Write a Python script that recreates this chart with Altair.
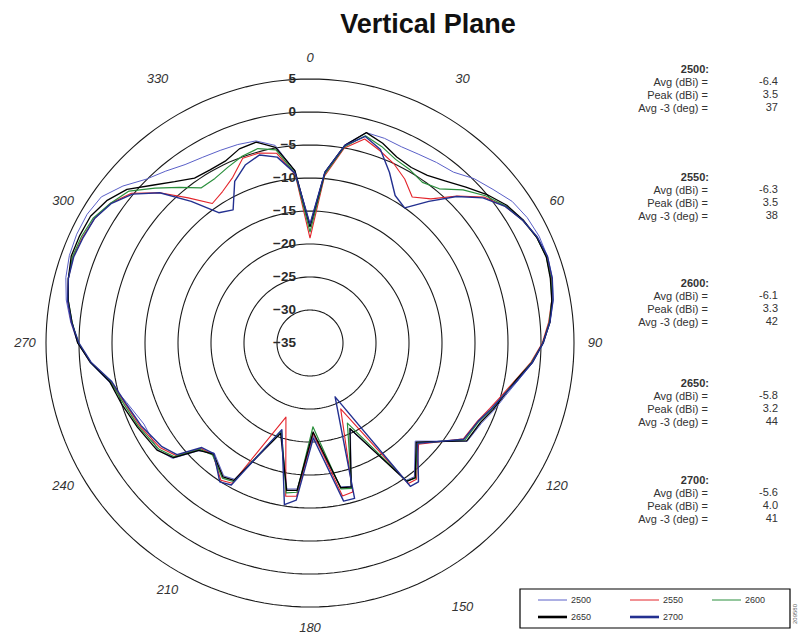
import altair as alt
import pandas as pd
import numpy as np

# ---------------- data ----------------
angles = [0, 5, 10, 15, 20, 25, 30, 35, 40, 45,
          50, 55, 60, 65, 70, 75, 80, 85, 90, 95,
          100, 105, 110, 115, 122, 133, 142, 145, 155, 164,
          168, 178, 185, 189, 198, 209, 213, 221, 226, 230,
          235, 244, 252, 259, 265, 270, 275, 280, 285, 290,
          295, 300, 305, 310, 315, 320, 325, 330, 335, 340,
          345, 350, 355, 360]

g2500 = [-17.0, -9.0, -4.5, -2.0, -2.0, -2.2, -2.0, -1.6, -1.2, 0.2,
         1.2, 2.4, 3.0, 3.3, 3.3, 3.0, 2.4, 1.5, 0.4, -1.1,
         -2.9, -4.3, -5.3, -6.3, -6.9, -13.2, -9.3, -9.6, -20.5, -12.4,
         -12.7, -21.0, -12.8, -12.6, -20.8, -11.4, -11.0, -12.9, -11.5, -7.8,
         -6.8, -7.0, -5.8, -4.0, -1.5, 0.2, 1.4, 2.5, 3.3, 3.8,
         4.0, 4.0, 3.6, 2.0, 0.1, -1.0, -2.0, -2.5, -2.8, -3.0,
         -3.3, -4.6, -8.8, -17.0]

g2550 = [-19.1, -9.6, -5.0, -3.0, -4.0, -5.0, -6.3, -8.0, -6.5, -3.5,
         -0.6, 1.1, 2.2, 2.9, 3.2, 2.9, 2.2, 1.3, 0.2, -1.4,
         -3.3, -4.8, -6.0, -7.0, -7.6, -12.5, -8.8, -9.0, -24.0, -11.5,
         -11.3, -21.3, -11.7, -11.5, -23.2, -10.7, -10.2, -12.6, -12.0, -8.5,
         -7.3, -6.3, -5.5, -4.3, -1.6, 0.1, 1.3, 2.3, 2.9, 3.2,
         3.0, 2.7, 1.9, 0.3, -2.8, -6.3, -9.2, -8.5, -7.3, -5.2,
         -5.2, -5.8, -9.4, -19.1]

g2600 = [-18.2, -9.3, -4.8, -2.5, -3.3, -4.3, -4.7, -5.3, -4.5, -2.2,
         -0.3, 1.2, 2.2, 2.9, 3.1, 2.8, 2.2, 1.4, 0.3, -1.3,
         -3.2, -4.6, -5.7, -6.8, -7.3, -12.8, -9.0, -9.5, -21.6, -12.1,
         -12.4, -22.3, -12.3, -12.0, -21.0, -11.0, -10.6, -12.5, -11.8, -8.2,
         -7.0, -6.1, -5.3, -4.2, -1.6, 0.1, 1.2, 2.2, 2.9, 3.3,
         3.2, 2.9, 1.9, 0.8, -1.8, -4.2, -6.3, -6.2, -5.6, -4.9,
         -4.5, -5.3, -9.2, -18.2]

g2650 = [-17.4, -9.0, -4.6, -2.0, -2.8, -3.9, -4.3, -4.0, -3.0, -1.6,
         0.0, 1.4, 2.3, 2.9, 3.1, 2.7, 2.2, 1.5, 0.3, -1.2,
         -3.2, -4.5, -5.5, -6.5, -7.0, -13.0, -9.1, -9.4, -20.7, -12.3,
         -12.6, -21.5, -12.6, -12.4, -20.6, -11.2, -10.8, -12.7, -11.6, -8.0,
         -6.7, -5.9, -5.0, -4.1, -1.6, 0.2, 1.2, 2.2, 2.9, 3.5,
         3.5, 3.4, 2.6, 1.2, -1.2, -3.1, -4.5, -4.7, -4.6, -3.7,
         -3.5, -4.9, -8.8, -17.4]

g2700 = [-17.0, -9.0, -4.6, -2.6, -3.8, -6.5, -9.2, -10.0, -7.0, -3.6,
         -0.8, 1.1, 2.2, 3.0, 3.3, 3.0, 2.4, 1.5, 0.3, -1.2,
         -3.0, -4.6, -5.8, -6.9, -7.5, -12.7, -8.3, -8.5, -26.0, -10.5,
         -10.5, -20.6, -11.1, -10.2, -21.2, -10.4, -9.9, -12.8, -12.2, -8.7,
         -7.6, -6.5, -5.6, -4.4, -1.7, 0.0, 1.3, 2.3, 2.9, 3.1,
         2.9, 2.7, 1.8, 0.1, -2.8, -7.0, -10.9, -11.7, -8.0, -6.3,
         -5.5, -6.4, -9.2, -17.0]

series = ["2500", "2550", "2600", "2650", "2700"]
series_colors = ["#5a60c8", "#e4242b", "#2a8f3c", "#000000", "#233090"]
series_widths = [1.0, 1.4, 1.4, 2.0, 1.8]
legend_widths = [1.0, 1.0, 1.0, 2.6, 2.6]

avg_dbi = [-6.4, -6.3, -6.1, -5.8, -5.6]
peak_dbi = [3.5, 3.5, 3.3, 3.2, 4.0]
avg3_deg = [37, 38, 42, 44, 41]

ring_levels = [5, 0, -5, -10, -15, -20, -25, -30]
ring_label_levels = [5, 0, -5, -10, -15, -20, -25, -30, -35]
angle_ticks = [0, 30, 60, 90, 120, 150, 180, 210, 240, 270, 300, 330]

# ---------------- geometry ----------------
W, H = 790, 627
CX, CY = 302, 335          # polar centre in plot pixels
PX_PER_DB = 6.6
R_MIN = -35                # gain at the centre

xs = alt.Scale(domain=[-CX / PX_PER_DB, (W - CX) / PX_PER_DB], nice=False, zero=False)
ys = alt.Scale(domain=[-(H - CY) / PX_PER_DB, CY / PX_PER_DB], nice=False, zero=False)
X = lambda f: alt.X(f, scale=xs, axis=None)
Y = lambda f: alt.Y(f, scale=ys, axis=None)


def to_data(px, py):
    return (px - CX) / PX_PER_DB, (CY - py) / PX_PER_DB


gains = {"2500": g2500, "2550": g2550, "2600": g2600, "2650": g2650, "2700": g2700}
rows = []
for s in series:
    for i, (a, g) in enumerate(zip(angles, gains[s])):
        rows.append({"series": s, "angle": a, "gain": g, "idx": i})
df = pd.DataFrame(rows)

polar_x = f"(datum.gain - ({R_MIN})) * sin(datum.angle * PI / 180)"
polar_y = f"(datum.gain - ({R_MIN})) * cos(datum.angle * PI / 180)"

# rings
ring_df = pd.DataFrame([{"gain": L, "angle": t} for L in ring_levels for t in range(0, 361, 2)])
rings = alt.Chart(ring_df).transform_calculate(px=polar_x, py=polar_y).mark_line(
    color="#1a1a1a", strokeWidth=1.1
).encode(x=X("px:Q"), y=Y("py:Q"), detail="gain:N", order="angle:Q")

ring_labels = alt.Chart(pd.DataFrame({"gain": ring_label_levels, "angle": 0})).transform_calculate(
    px=polar_x, py=polar_y
).mark_text(align="right", baseline="middle", dx=-14, fontSize=13.5, fontWeight="bold",
            font="Liberation Sans", color="#2a2a2a").encode(x=X("px:Q"), y=Y("py:Q"), text="gain:Q")

R_LAB = 285 / PX_PER_DB
R_LAB_FAR = 305 / PX_PER_DB
angle_labels = alt.Chart(pd.DataFrame({"angle": angle_ticks})).transform_calculate(
    rl=f"indexof([30, 150, 330], datum.angle) >= 0 ? {R_LAB_FAR} : {R_LAB}"
).transform_calculate(
    px="datum.rl * sin(datum.angle * PI / 180)",
    py="datum.rl * cos(datum.angle * PI / 180)",
).mark_text(align="center", baseline="middle", fontSize=13, fontStyle="italic",
            font="Liberation Sans", color="#333333").encode(x=X("px:Q"), y=Y("py:Q"), text="angle:Q")

color_scale = alt.Scale(domain=series, range=series_colors)

lines = alt.Chart(df).transform_calculate(px=polar_x, py=polar_y).mark_line(
    strokeJoin="round"
).encode(
    x=X("px:Q"), y=Y("py:Q"), order="idx:Q",
    color=alt.Color("series:N", scale=color_scale, legend=None),
    strokeWidth=alt.StrokeWidth("series:N", scale=alt.Scale(domain=series, range=series_widths),
                                legend=None),
)

# ---------------- legend box (drawn by hand) ----------------
bx0, by0 = to_data(512, 581)
bx1, by1 = to_data(782, 620)
legend_box = alt.Chart(pd.DataFrame({"x": [bx0], "x2": [bx1], "y": [by0], "y2": [by1]})).mark_rect(
    fill="#ffffff", stroke="#000000", strokeWidth=1.2
).encode(x=X("x:Q"), x2="x2:Q", y=Y("y:Q"), y2="y2:Q")

col_x = [530, 622, 704]
row_y = [592, 609]
leg_rows = []
for i, s in enumerate(series):
    c, r = i % 3, i // 3
    lx0, ly = to_data(col_x[c], row_y[r])
    lx1, _ = to_data(col_x[c] + 29, row_y[r])
    tx0, _ = to_data(col_x[c] + 33, row_y[r])
    leg_rows.append({"series": s, "x": lx0, "x2": lx1, "y": ly, "tx": tx0, "lw": legend_widths[i]})
ldf = pd.DataFrame(leg_rows)
legend_lines = alt.Chart(ldf).mark_rule().encode(
    x=X("x:Q"), x2="x2:Q", y=Y("y:Q"),
    color=alt.Color("series:N", scale=color_scale, legend=None),
    strokeWidth=alt.StrokeWidth("lw:Q", scale=None, legend=None),
)
legend_text = alt.Chart(ldf).mark_text(align="left", baseline="middle", fontSize=9,
                                       font="Liberation Sans", color="#333333").encode(
    x=X("tx:Q"), y=Y("y:Q"), text="series:N")

# ---------------- annotation texts ----------------
block_y = [62, 170, 276, 376, 473]
txt_rows = []
for i, f in enumerate(series):
    y0 = block_y[i]
    hx, hy = to_data(701, y0)
    txt_rows.append({"x": hx, "y": hy, "t": f + ":", "k": "head"})
    labs = ["Avg (dBi) =", "Peak (dBi) =", "Avg -3 (deg) ="]
    vals = [f"{avg_dbi[i]:.1f}", f"{peak_dbi[i]:.1f}", f"{avg3_deg[i]:d}"]
    for j in range(3):
        lx, ly = to_data(700, y0 + 13 * (j + 1))
        vx, vy = to_data(770, y0 + 13 * (j + 1) - 1)
        txt_rows.append({"x": lx, "y": ly, "t": labs[j], "k": "lab"})
        txt_rows.append({"x": vx, "y": vy, "t": vals[j], "k": "val"})
tdf = pd.DataFrame(txt_rows)

heads = alt.Chart(tdf).transform_filter("datum.k == 'head'").mark_text(
    align="right", baseline="middle", fontSize=11, fontWeight="bold", font="Liberation Sans",
    color="#333333").encode(x=X("x:Q"), y=Y("y:Q"), text="t:N")
labs = alt.Chart(tdf).transform_filter("datum.k != 'head'").mark_text(
    align="right", baseline="middle", fontSize=11, font="Liberation Sans",
    color="#333333").encode(x=X("x:Q"), y=Y("y:Q"), text="t:N")

tx, ty = to_data(420, 17)
title = alt.Chart(pd.DataFrame({"x": [tx], "y": [ty], "t": ["Vertical Plane"]})).mark_text(
    align="center", baseline="middle", fontSize=27, fontWeight="bold", font="Liberation Sans",
    color="#111111").encode(x=X("x:Q"), y=Y("y:Q"), text="t:N")

ix, iy = to_data(787, 606)
tag = alt.Chart(pd.DataFrame({"x": [ix], "y": [iy], "t": ["209580"]})).mark_text(
    align="center", baseline="middle", fontSize=6, angle=270, font="Liberation Sans",
    color="#666666").encode(x=X("x:Q"), y=Y("y:Q"), text="t:N")

chart = alt.layer(rings, ring_labels, angle_labels, lines, legend_box, legend_lines, legend_text,
                  heads, labs, title, tag).properties(
    width=W, height=H, autosize=alt.AutoSizeParams(type="none"), padding=0,
    background="#ffffff",
).configure_view(stroke=None)

chart.save("out.html", embed_options={"renderer": "svg", "actions": False})
